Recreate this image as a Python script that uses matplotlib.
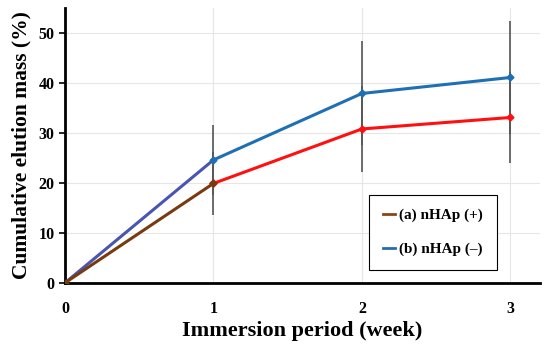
import numpy as np
import matplotlib
matplotlib.use("Agg")
import matplotlib.pyplot as plt

# data
weeks = [0, 1, 2, 3]
mass_a = [0.0, 19.9, 30.8, 33.1]   # (a) nHAp (+)
mass_b = [0.0, 24.6, 37.9, 41.1]   # (b) nHAp (-)
err_a = [0.0, 6.3, 8.6, 9.1]
err_b = [0.0, 7.0, 10.4, 11.4]

plt.rcParams['font.family'] = ['Liberation Serif', 'DejaVu Serif']
plt.rcParams['font.weight'] = 'bold'

fig = plt.figure(figsize=(5.5, 3.48), dpi=100)
ax = fig.add_axes([0.118, 0.187, 0.864, 0.79])

ax.grid(True, color='#e6e6e6', lw=0.8)
ax.set_axisbelow(True)

# error bars (grey, no caps)
ax.errorbar(weeks, mass_b, yerr=err_b, fmt='none', ecolor='#555555', elinewidth=1.2, zorder=2)
ax.errorbar(weeks, mass_a, yerr=err_a, fmt='none', ecolor='#555555', elinewidth=1.2, zorder=2)

# first segment drawn in darker colour, as in the original
ax.plot(weeks[:2], mass_b[:2], color='#4a55b0', lw=2.2, zorder=3)
ax.plot(weeks[1:], mass_b[1:], color='#1f6fb5', lw=2.2, marker='D', ms=3.5, zorder=3)
ax.plot(weeks[:2], mass_a[:2], color='#7a3a10', lw=2.2, marker='D', ms=3.5, zorder=4)
ax.plot(weeks[1:], mass_a[1:], color='#ff1010', lw=2.2, marker='D', ms=3.5, zorder=4)
ax.plot(weeks[1], mass_a[1], color='#7a3a10', marker='D', ms=3.5, zorder=5)

# legend proxies
la, = ax.plot([], [], color='#8b4513', lw=2)
lb, = ax.plot([], [], color='#2a6ab0', lw=2)
leg = ax.legend([la, lb], ['(a) nHAp (+)', '(b) nHAp (–)'],
                loc='lower right', bbox_to_anchor=(0.925, 0.02),
                fontsize=11, handlelength=0.8, handletextpad=0.3,
                labelspacing=1.3, borderpad=0.9, fancybox=False,
                framealpha=1, edgecolor='black')
leg.get_frame().set_linewidth(0.8)

ax.set_xlim(0, 3.2)
ax.set_ylim(0, 55)
ax.set_xticks([0, 1, 2, 3])
ax.set_yticks([0, 10, 20, 30, 40, 50])
ax.tick_params(axis='x', length=0, labelsize=11.5, pad=13)
ax.tick_params(axis='y', length=4, width=1.2, labelsize=11.5)
for s in ['top', 'right']:
    ax.spines[s].set_visible(False)
for s in ['left', 'bottom']:
    ax.spines[s].set_linewidth(2)

ax.set_xlabel('Immersion period (week)', fontsize=16, fontweight='bold', labelpad=3)
ax.set_ylabel('Cumulative elution mass (%)', fontsize=15.5, fontweight='bold', labelpad=5)

fig.savefig('out.png', dpi=100)
